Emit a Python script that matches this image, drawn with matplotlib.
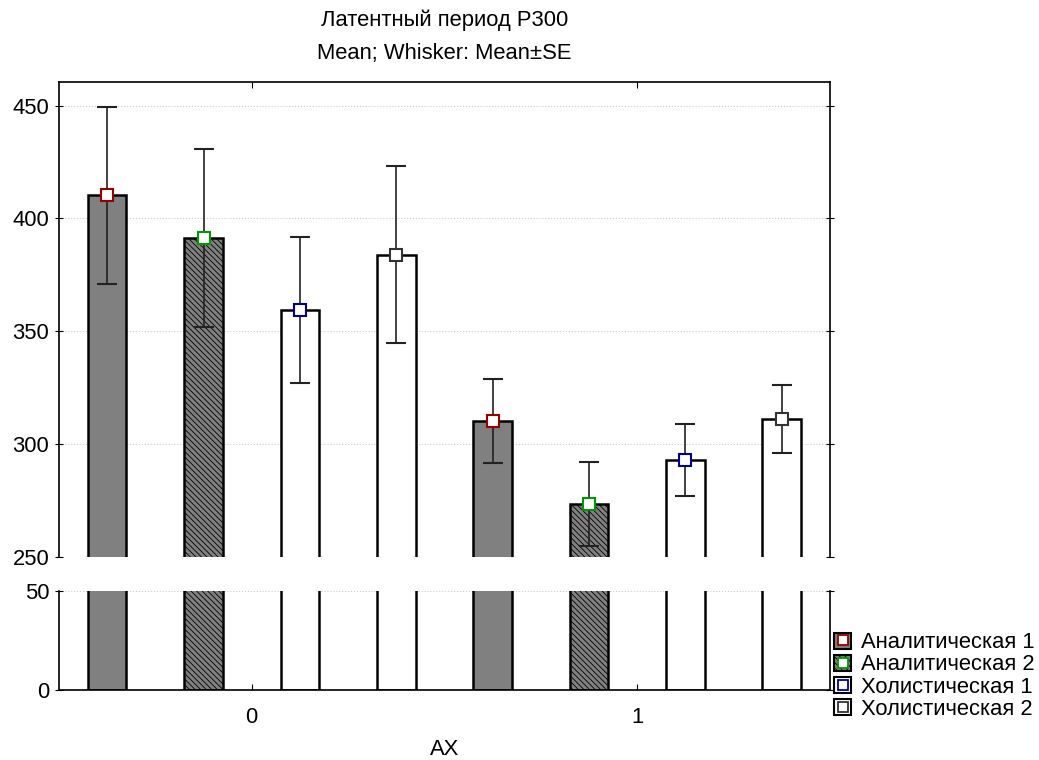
import matplotlib.pyplot as plt
import numpy as np
from matplotlib.patches import Patch
from matplotlib.lines import Line2D
from matplotlib.legend_handler import HandlerTuple

plt.rcParams['font.family'] = ['Liberation Sans', 'DejaVu Sans']
plt.rcParams['hatch.linewidth'] = 0.6

groups = ["0", "1"]
series = ["Аналитическая 1", "Аналитическая 2", "Холистическая 1", "Холистическая 2"]
means = [
    [410.2, 310.3],
    [391.3, 273.5],
    [359.3, 293.0],
    [383.8, 311.2],
]
se = [
    [39.3, 18.7],
    [39.6, 18.5],
    [32.3, 16.0],
    [39.2, 15.0],
]

fills = ["#808080", "#808080", "white", "white"]
hatches = [None, "\\\\\\\\\\\\", None, None]
mcolors = ["#990000", "#009900", "#000099", "#333333"]

fs = 15.8

fig = plt.figure(figsize=(10.39, 7.60), dpi=100)
ax_top = fig.add_axes([0.0568, 0.2671, 0.742, 0.6255])
ax_bot = fig.add_axes([0.0568, 0.0921, 0.742, 0.1303])

x = np.arange(len(groups))
width = 0.1
offsets = [-0.375, -0.125, 0.125, 0.375]

for ax in (ax_top, ax_bot):
    for i in range(len(series)):
        ax.bar(x + offsets[i], means[i], width, color=fills[i], edgecolor="black",
               linewidth=1.8, hatch=hatches[i], zorder=2)
    ax.set_xlim(-0.5, 1.5)
    ax.grid(axis="y", color="#cccccc", linestyle=":", linewidth=0.8, zorder=0)
    ax.tick_params(axis="both", labelsize=fs)
    ax.tick_params(axis="y", direction="inout", length=6, right=True, pad=4)
    ax.tick_params(axis="x", direction="in", length=4, top=True, pad=12)
    ax.set_xticks(x)

for i in range(len(series)):
    ax_top.errorbar(x + offsets[i], means[i], yerr=se[i], fmt="s", color="#222222",
                    ecolor="#222222", elinewidth=1.2, capsize=7, capthick=1.2,
                    markersize=8, markerfacecolor="white", markeredgecolor=mcolors[i],
                    markeredgewidth=1.5, zorder=3)

ax_top.set_ylim(250, 460.6)
ax_top.set_yticks([250, 300, 350, 400, 450])
ax_top.spines["bottom"].set_visible(False)
ax_top.tick_params(axis="x", bottom=False, labelbottom=False)

ax_bot.set_ylim(0, 50)
ax_bot.set_yticks([0, 50])
ax_bot.spines["top"].set_visible(False)
ax_bot.tick_params(axis="x", top=False)
ax_bot.set_xticklabels(groups)
ax_bot.set_xlabel("AX", fontsize=fs, labelpad=8.5)

for ax in (ax_top, ax_bot):
    for s in ax.spines.values():
        s.set_linewidth(1.2)

ax_top.set_title("Латентный период P300\nMean; Whisker: Mean±SE", fontsize=fs,
                 linespacing=1.75, pad=16)

handles = []
for i in range(len(series)):
    p = Patch(facecolor=fills[i], edgecolor="black", linewidth=1.5, hatch=hatches[i])
    m = Line2D([], [], marker="s", linestyle="none", markersize=7.5,
               markerfacecolor="white", markeredgecolor=mcolors[i], markeredgewidth=1.3)
    handles.append((p, m))

fig.legend(handles, series, loc="upper left", bbox_to_anchor=(0.803, 0.168),
           frameon=False, fontsize=fs, handlelength=0.75, handleheight=0.75,
           handletextpad=0.45, labelspacing=0.05, borderaxespad=0, borderpad=0,
           handler_map={tuple: HandlerTuple(ndivide=1)})

fig.savefig("out.png", dpi=100)
